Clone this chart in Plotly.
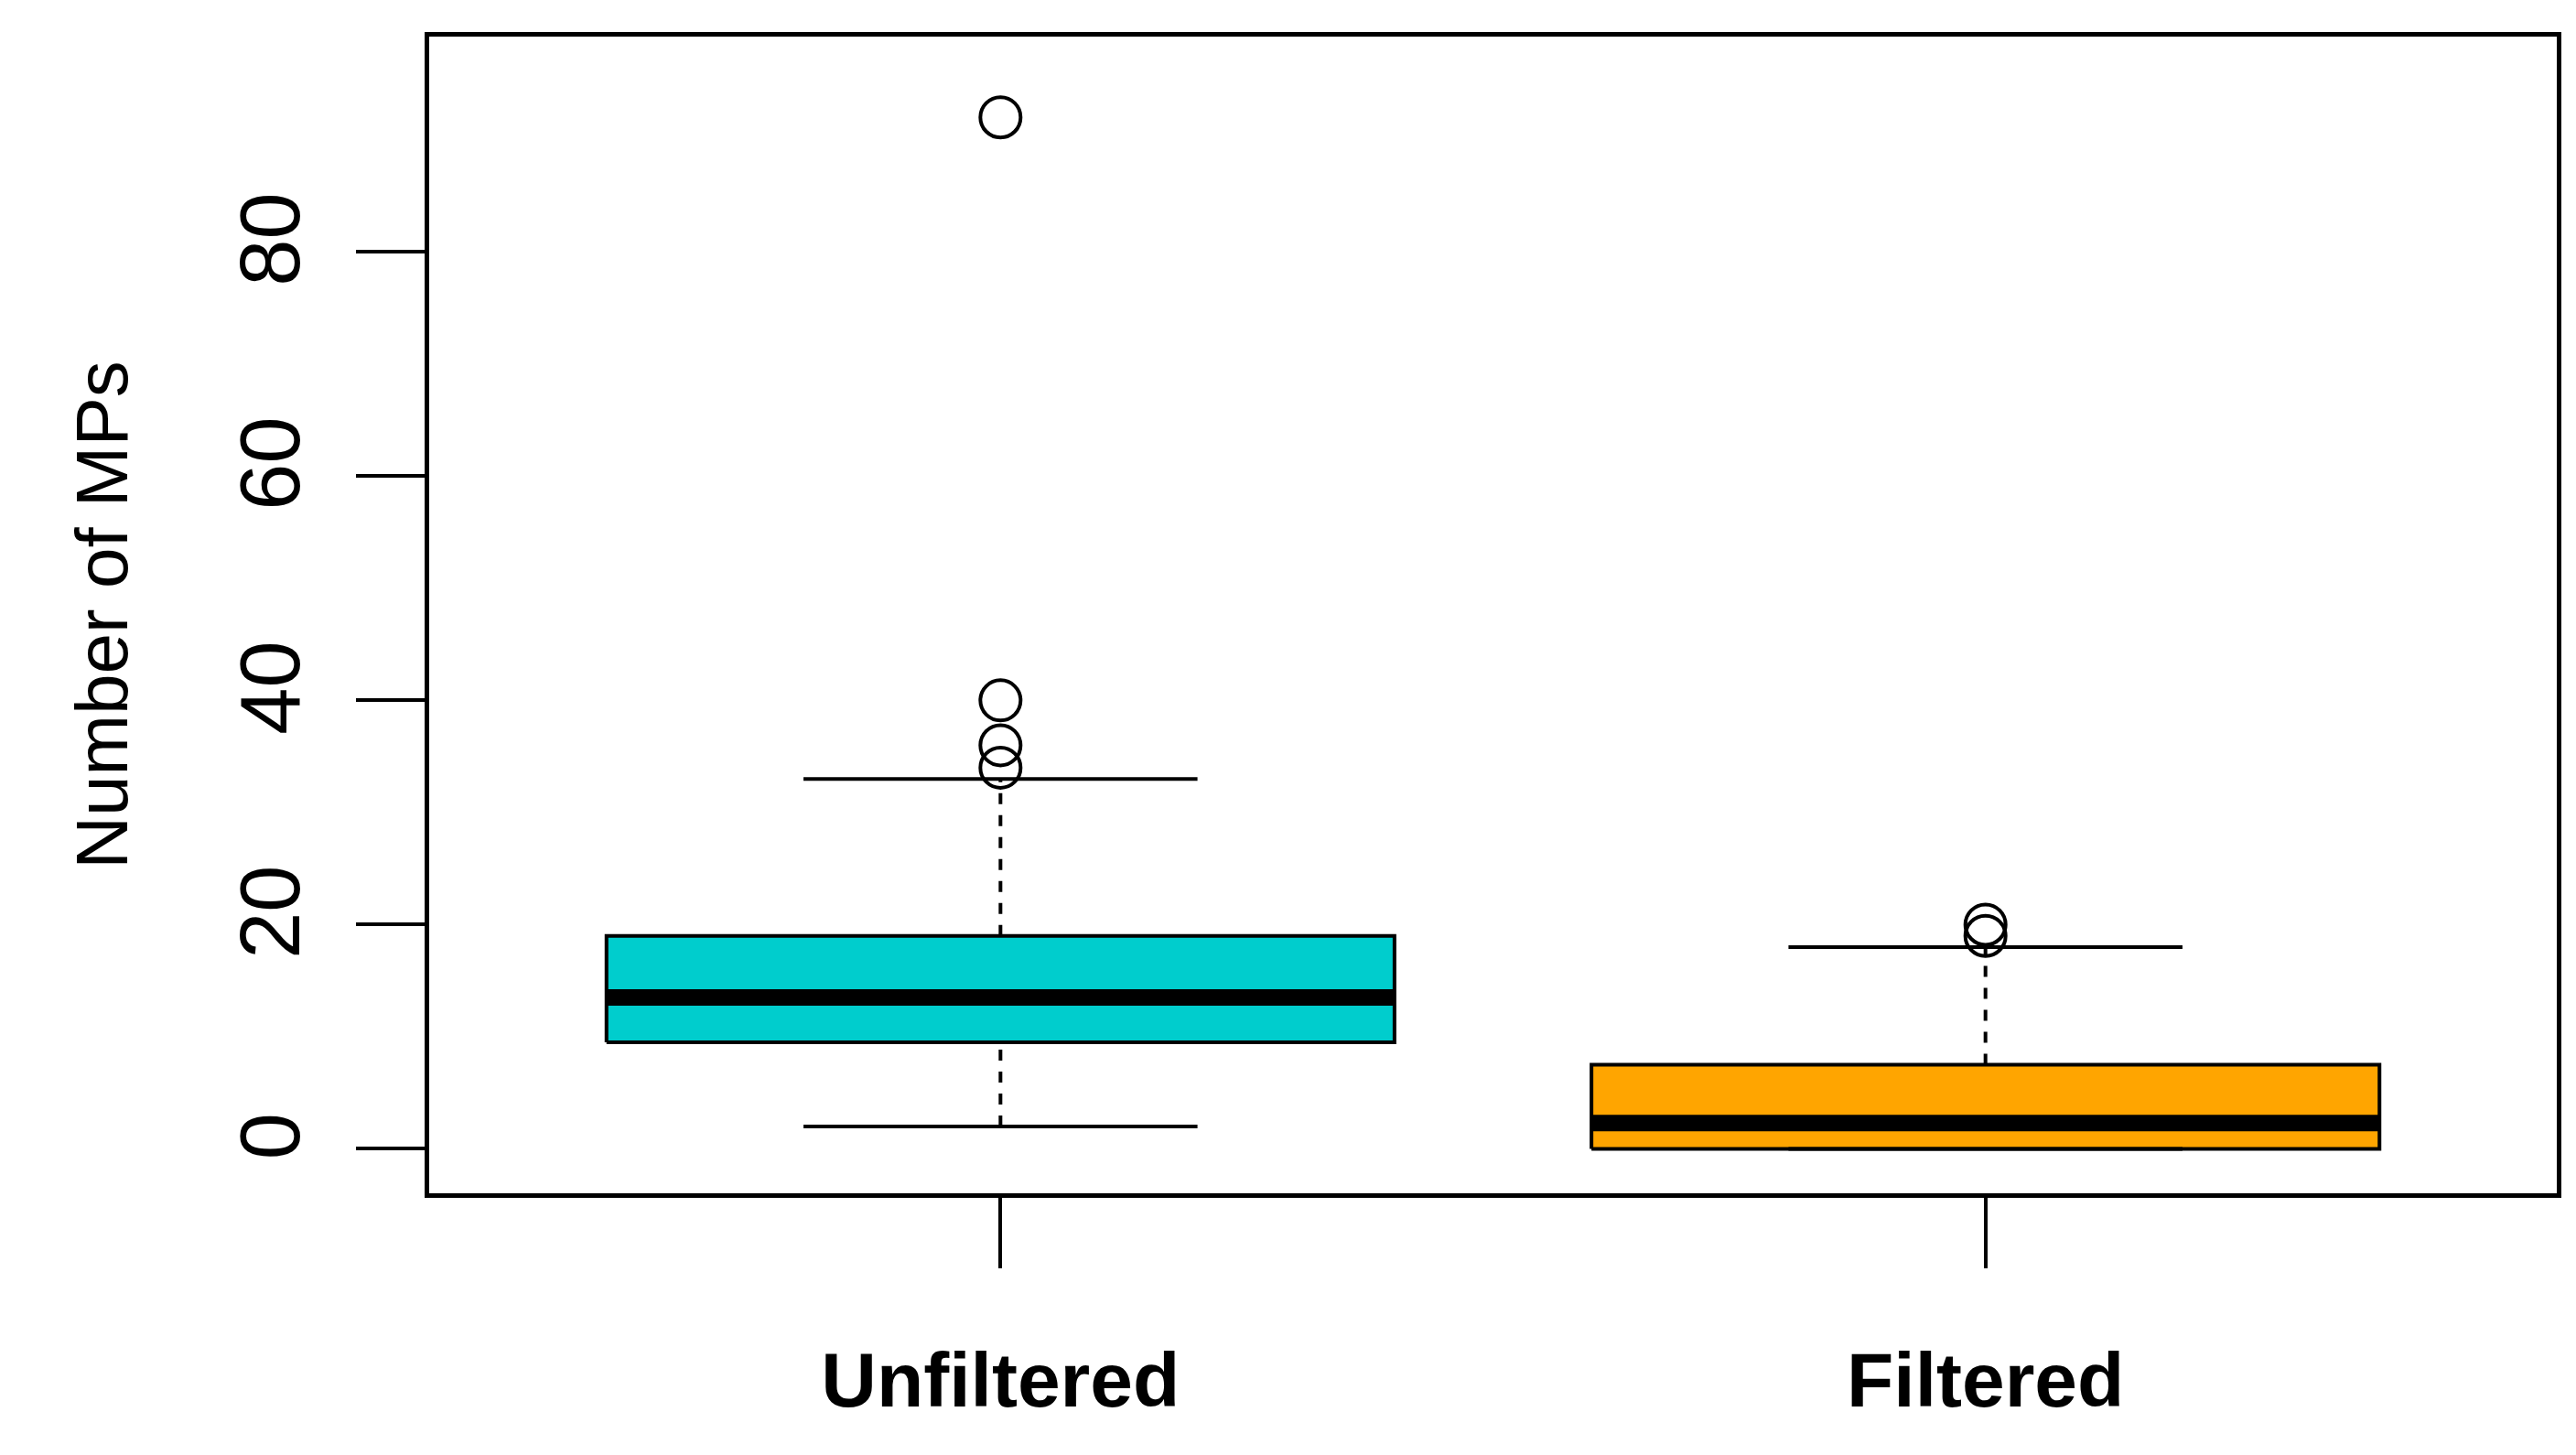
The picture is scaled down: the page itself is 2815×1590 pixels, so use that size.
import plotly.graph_objects as go

groups = ["Unfiltered", "Filtered"]
colors = ["#00CDCD", "#FFA500"]
q1 = [9.5, 0.0]
median = [13.5, 2.3]
q3 = [19.0, 7.5]
lower_whisker = [2.0, 0.0]
upper_whisker = [33.0, 18.0]
outliers = [[34, 36, 40, 92], [19, 20]]

half_box = 0.4
half_cap = 0.2
font = "Liberation Sans, Arial, sans-serif"

fig = go.Figure()
for i, name in enumerate(groups):
    x = i + 1
    # box body
    fig.add_trace(go.Scatter(
        x=[x - half_box, x + half_box, x + half_box, x - half_box, x - half_box],
        y=[q1[i], q1[i], q3[i], q3[i], q1[i]],
        mode="lines", fill="toself", fillcolor=colors[i],
        line=dict(color="black", width=4), hoverinfo="skip"))
    # median
    fig.add_trace(go.Scatter(
        x=[x - half_box, x + half_box], y=[median[i], median[i]],
        mode="lines", line=dict(color="black", width=18)))
    # dashed whiskers
    for a, b in [(lower_whisker[i], q1[i]), (q3[i], upper_whisker[i])]:
        if a != b:
            fig.add_trace(go.Scatter(
                x=[x, x], y=[a, b], mode="lines",
                line=dict(color="black", width=4, dash="dash")))
    # caps
    for v in [lower_whisker[i], upper_whisker[i]]:
        fig.add_trace(go.Scatter(
            x=[x - half_cap, x + half_cap], y=[v, v], mode="lines",
            line=dict(color="black", width=4)))
    # outliers
    fig.add_trace(go.Scatter(
        x=[x] * len(outliers[i]), y=outliers[i], mode="markers",
        marker=dict(symbol="circle-open", size=44, color="black",
                    line=dict(width=4))))

fig.update_layout(
    width=2815, height=1590,
    plot_bgcolor="white", paper_bgcolor="white",
    showlegend=False,
    margin=dict(l=461, r=29, t=32, b=294),
    font=dict(family=font, color="black"),
    xaxis=dict(
        range=[0.42, 2.58], tickvals=[1, 2],
        ticktext=["<b>" + g + "</b>" for g in groups],
        ticks="outside", ticklen=77, tickwidth=4, tickcolor="black",
        tickfont=dict(size=84), ticklabelstandoff=50,
        showline=True, mirror=True, linecolor="black", linewidth=5,
        showgrid=False, zeroline=False),
    yaxis=dict(
        range=[-3.96, 99.2], tickvals=[0, 20, 40, 60, 80],
        ticks="outside", ticklen=75, tickwidth=4, tickcolor="black",
        tickangle=-90, tickfont=dict(size=92), ticklabelstandoff=25,
        showline=True, mirror=True, linecolor="black", linewidth=5,
        showgrid=False, zeroline=False,
        title=dict(text="Number of MPs", font=dict(size=80), standoff=80)),
)

fig.write_html("out.html")
